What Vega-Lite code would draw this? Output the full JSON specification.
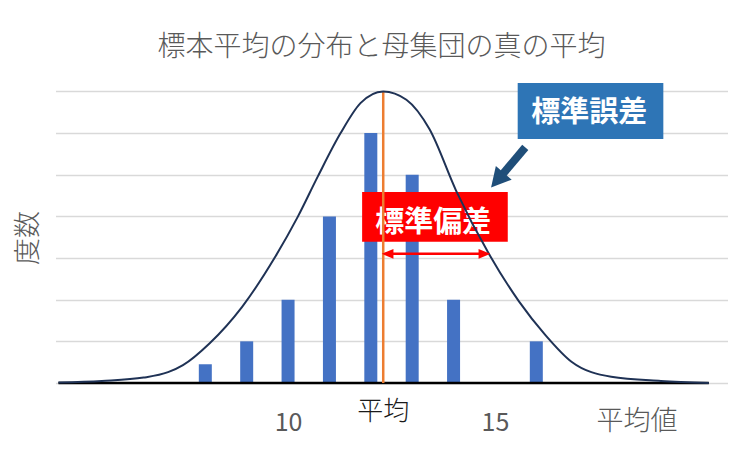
{
  "$schema": "https://vega.github.io/schema/vega-lite/v6.json",
  "autosize": "none",
  "width": 672,
  "height": 302,
  "padding": {"left": 55.5, "top": 81, "right": 23.5, "bottom": 69},
  "background": "white",
  "title": {
    "text": "標本平均の分布と母集団の真の平均",
    "font": "Noto Sans CJK JP",
    "fontSize": 28,
    "fontWeight": 300,
    "color": "#595959",
    "anchor": "middle",
    "frame": "group",
    "baseline": "middle",
    "dx": -10,
    "offset": 5
  },
  "config": {
    "view": {"stroke": null},
    "font": "Noto Sans CJK JP"
  },
  "encoding": {
    "x": {
      "field": "x",
      "type": "quantitative",
      "scale": {"domain": [4.5, 20.5], "nice": false, "zero": false},
      "axis": {
        "title": "平均値",
        "titleFontSize": 27,
        "titleFontWeight": 300,
        "titleColor": "#595959",
        "titleX": 581,
        "titleY": 38.5,
        "titleAlign": "center",
        "titleBaseline": "middle",
        "values": [10, 15],
        "format": "d",
        "labelFontSize": 25,
        "labelColor": "#595959",
        "labelBaseline": "middle",
        "labelPadding": 39,
        "ticks": false,
        "tickSize": 0,
        "domain": false,
        "grid": false
      }
    },
    "y": {
      "field": "y",
      "type": "quantitative",
      "scale": {"domain": [0, 7.25], "nice": false},
      "axis": {
        "title": "度数",
        "titleFontSize": 27,
        "titleFontWeight": 300,
        "titleColor": "#595959",
        "titleX": -27,
        "titleY": 156.5,
        "titleAlign": "center",
        "titleBaseline": "middle",
        "values": [0, 1, 2, 3, 4, 5, 6, 7],
        "labels": false,
        "ticks": false,
        "domain": false,
        "grid": true,
        "gridColor": "#d9d9d9",
        "gridWidth": 1.5
      }
    }
  },
  "layer": [
    {
      "data": {
        "values": [
          {"x": 8, "y": 0.45},
          {"x": 9, "y": 1},
          {"x": 10, "y": 2},
          {"x": 11, "y": 4},
          {"x": 12, "y": 6},
          {"x": 13, "y": 5},
          {"x": 14, "y": 2},
          {"x": 16, "y": 1}
        ]
      },
      "mark": {"type": "bar", "width": 13, "color": "#4472c4"}
    },
    {
      "data": {"values": [{"x": 4.45, "x2": 20.17, "y": 0}]},
      "mark": {"type": "rule", "color": "#000000", "strokeWidth": 2.5, "clip": false},
      "encoding": {"x2": {"field": "x2"}}
    },
    {
      "data": {"values": [{"x": 11.79, "x2": 15.31, "y": 3.39, "y2": 4.585}]},
      "mark": {"type": "rect", "color": "#ff0000"},
      "encoding": {"x2": {"field": "x2"}, "y2": {"field": "y2"}}
    },
    {
      "data": {"values": [{"x": 13.51, "y": 3.85, "label": "標準偏差"}]},
      "mark": {"type": "text", "color": "white", "fontSize": 29, "fontWeight": "bold", "align": "center", "baseline": "middle"},
      "encoding": {"text": {"field": "label"}}
    },
    {
      "data": {"values": [{"x": 12.3, "y": 0, "y2": 7}]},
      "mark": {"type": "rule", "color": "#ed7d31", "strokeWidth": 2.5},
      "encoding": {"y2": {"field": "y2"}}
    },
    {
      "data": {
        "values": [
          {"x": 4.45, "y": 0.01},
          {"x": 5.5, "y": 0.05},
          {"x": 6.51, "y": 0.13},
          {"x": 7.1, "y": 0.26},
          {"x": 7.46, "y": 0.43},
          {"x": 8.1, "y": 0.95},
          {"x": 8.89, "y": 1.83},
          {"x": 9.69, "y": 3.03},
          {"x": 10.24, "y": 4.0},
          {"x": 10.72, "y": 4.96},
          {"x": 11.27, "y": 6.0},
          {"x": 11.75, "y": 6.72},
          {"x": 12.3, "y": 7.0},
          {"x": 12.86, "y": 6.8},
          {"x": 13.42, "y": 6.09},
          {"x": 14.06, "y": 4.62},
          {"x": 14.86, "y": 3.09},
          {"x": 15.58, "y": 1.96},
          {"x": 16.22, "y": 1.15},
          {"x": 16.85, "y": 0.51},
          {"x": 17.81, "y": 0.15},
          {"x": 19.01, "y": 0.05},
          {"x": 20.17, "y": 0.0}
        ]
      },
      "mark": {"type": "line", "color": "#1f3255", "strokeWidth": 2, "interpolate": "monotone", "clip": false}
    },
    {
      "data": {"values": [{"x": 12.36, "x2": 14.7, "y": 3.1}]},
      "mark": {"type": "rule", "color": "#ff0000", "strokeWidth": 2.5},
      "encoding": {"x2": {"field": "x2"}}
    },
    {
      "data": {"values": [{"x": 14.746, "y": 3.1}]},
      "mark": {"type": "point", "shape": "M1,0L-1,-0.85L-1,0.85Z", "size": 137, "filled": true, "opacity": 1, "color": "#ff0000"}
    },
    {
      "data": {"values": [{"x": 12.406, "y": 3.1}]},
      "mark": {"type": "point", "shape": "M-1,0L1,-0.85L1,0.85Z", "size": 137, "filled": true, "opacity": 1, "color": "#ff0000"}
    },
    {
      "data": {"values": [{"x": 15.55, "x2": 19.07, "y": 5.86, "y2": 7.2}]},
      "mark": {"type": "rect", "color": "#2e75b6"},
      "encoding": {"x2": {"field": "x2"}, "y2": {"field": "y2"}}
    },
    {
      "data": {"values": [{"x": 17.28, "y": 6.49, "label": "標準誤差"}]},
      "mark": {"type": "text", "color": "white", "fontSize": 29, "fontWeight": "bold", "align": "center", "baseline": "middle"},
      "encoding": {"text": {"field": "label"}}
    },
    {
      "data": {"values": [{"x": 15.733, "y": 5.656, "x2": 15.155, "y2": 4.976}]},
      "mark": {"type": "rule", "color": "#1f4e79", "strokeWidth": 8},
      "encoding": {"x2": {"field": "x2"}, "y2": {"field": "y2"}}
    },
    {
      "data": {"values": [{"x": 15.06, "y": 4.87}]},
      "mark": {"type": "point", "shape": "M0,-1L1.08,1L-1.08,1Z", "size": 376, "angle": 220.9, "filled": true, "opacity": 1, "color": "#1f4e79"}
    },
    {
      "data": {"values": [{"x": 12.3, "y": -0.708, "label": "平均"}]},
      "mark": {"type": "text", "color": "#1a1a1a", "fontSize": 26, "fontWeight": 300, "align": "center", "baseline": "middle", "clip": false},
      "encoding": {"text": {"field": "label"}}
    }
  ]
}
